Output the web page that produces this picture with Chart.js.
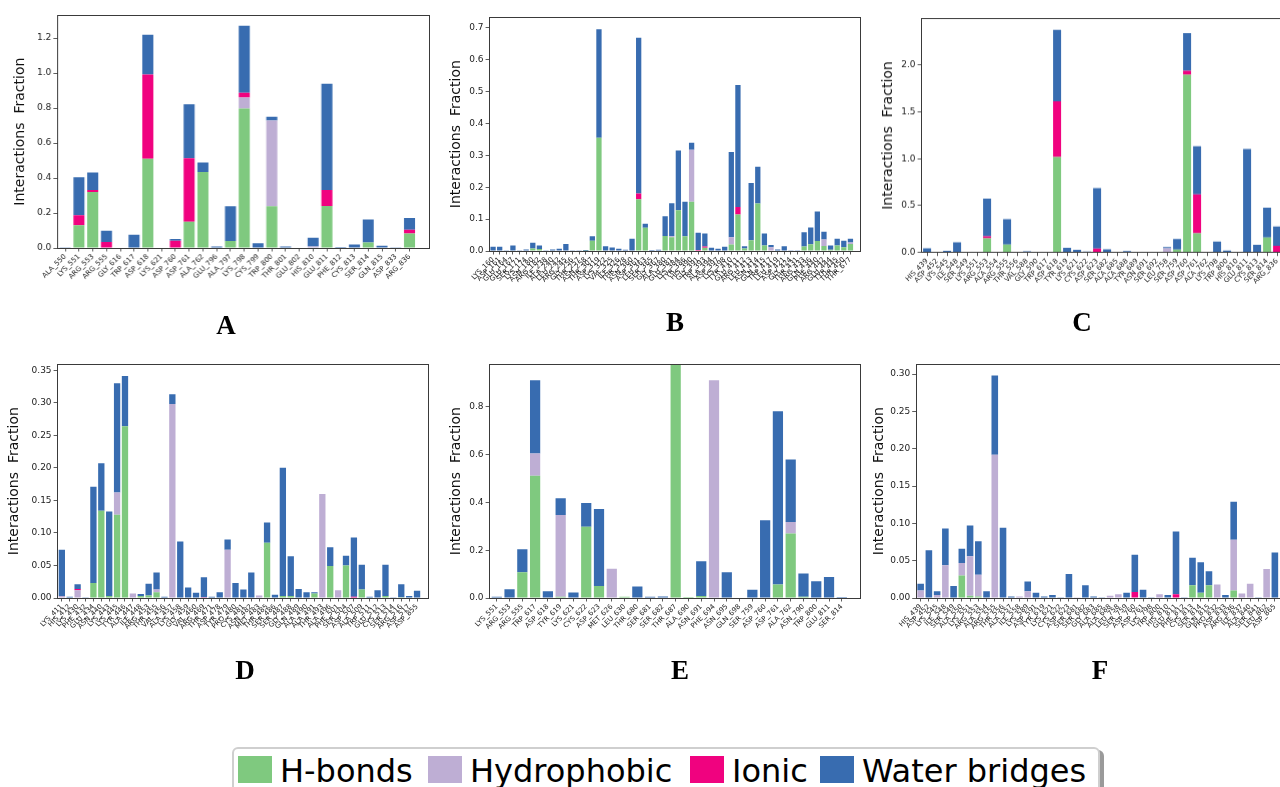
<!DOCTYPE html>
<html><head><meta charset="utf-8">
<script src="https://cdn.jsdelivr.net/npm/chart.js@4.4.1/dist/chart.umd.min.js"></script>
<style>
html,body{margin:0;padding:0;background:#fff;width:1280px;height:787px;overflow:hidden;position:relative;font-family:'DejaVu Sans',sans-serif;}
.panel{position:absolute;}
.letter{position:absolute;font-family:'Liberation Serif','Times New Roman',serif;font-weight:bold;font-size:27px;color:#000;transform:translate(-50%,-50%);line-height:1;}
#legend{position:absolute;left:232px;top:747px;width:864px;height:60px;border:2px solid #cfcfcf;border-radius:6px;background:#fff;box-shadow:4px 3px 0 #9a9a9a;}
.sw{position:absolute;top:756px;width:34px;height:27px;}
.lt{position:absolute;top:755px;font-family:'DejaVu Sans',sans-serif;font-size:32px;line-height:32px;color:#000;white-space:nowrap;}
</style></head>
<body>
<script>
// ---------- series meta ----------
const seriesNames = ['H-bonds','Hydrophobic','Ionic','Water bridges'];
const seriesColors = ['#7fc97f','#beaed4','#f0027f','#386cb0'];

// ---------- Panel A ----------
const catsA = ['ALA_550','LYS_551','ARG_553','ARG_555','GLY_616','TRP_617','ASP_618','LYS_621','ASP_760','ASP_761','ALA_762','GLU_796','ALA_797','LYS_798','CYS_799','TRP_800','THR_801','GLU_802','HIS_810','GLU_811','PHE_812','CYS_813','SER_814','GLN_815','ASP_833','ARG_836'];
const hbondA = [0,0.13,0.32,0,0,0,0.511,0,0,0.15,0.434,0,0.04,0.797,0,0.239,0,0,0,0.24,0,0,0.032,0,0,0.083];
const hydroA = [0,0,0,0,0,0,0,0,0,0,0,0,0,0.063,0,0.49,0,0,0.008,0,0,0,0,0,0,0];
const ionicA = [0,0.057,0.011,0.034,0,0,0.481,0,0.042,0.363,0,0,0,0.028,0,0,0,0,0,0.091,0,0,0,0,0,0.021];
const waterA = [0.005,0.218,0.10,0.064,0,0.076,0.228,0,0.009,0.309,0.055,0.009,0.199,0.383,0.027,0.021,0.008,0,0.051,0.608,0.006,0.02,0.131,0.013,0.005,0.068];
const yTicksA = [0,0.2,0.4,0.6,0.8,1.0,1.2];

// ---------- Panel B ----------
const catsB = ['LYS_160','ASP_161','GLU_164','GLU_167','SER_171','LYS_174','ASN_180','ARG_182','ILE_238','ALA_240','LEU_242','ARG_245','GLY_256','THR_257','ASN_258','THR_307','ASP_319','LYS_322','VAL_325','ILE_326','THR_328','ASN_360','ASP_361','LEU_363','SER_365','GLY_367','ALA_380','GLU_381','LYS_384','TYR_386','HIS_390','GLY_391','TRP_393','ALA_394','ASP_397','LYS_398','TYR_410','GLU_411','ARG_412','LEU_413','ASN_414','GLN_415','TRP_417','LEU_419','ASP_421','GLY_424','THR_431','ARG_433','GLN_436','PHE_440','ARG_442','GLU_444','TYR_445','THR_450','THR_677'];
const hbondB = [0,0,0,0,0,0,0.008,0.006,0,0, 0,0,0,0,0.001,0.032,0.355,0,0,0, 0,0,0.162,0.073,0,0,0.047,0.043,0.128,0.046, 0.154,0,0.01,0,0,0,0.02,0.114,0.008,0.034, 0.149,0.017,0,0,0,0,0,0.014,0.021,0.031, 0.016,0.004,0.017,0.012,0.022];
const hydroB = [0,0,0,0,0,0,0,0,0,0, 0,0,0,0,0,0,0,0,0,0, 0,0,0,0,0,0,0,0.003,0,0, 0.163,0,0,0,0,0,0.023,0,0,0, 0,0,0.012,0,0,0,0,0,0,0, 0.02,0,0,0,0.005];
const ionicB = [0,0,0,0,0,0,0,0,0,0, 0,0,0,0,0,0,0,0,0,0, 0,0,0.018,0,0,0,0,0,0,0, 0,0.003,0.004,0,0,0,0,0.024,0,0, 0,0,0,0,0,0,0,0,0,0, 0,0,0,0,0];
const waterB = [0.013,0.013,0.001,0.017,0.002,0.005,0.018,0.011,0.001,0.005, 0.007,0.022,0.002,0.002,0.002,0.014,0.340,0.015,0.011,0.007, 0.004,0.038,0.488,0.012,0.003,0.004,0.062,0.104,0.187,0.108, 0.022,0.054,0.041,0.01,0.007,0.013,0.267,0.382,0.007,0.179, 0.115,0.038,0.007,0.005,0.015,0.001,0.001,0.045,0.053,0.093, 0.024,0.013,0.021,0.02,0.011];
const yTicksB = [0,0.1,0.2,0.3,0.4,0.5,0.6,0.7];

// ---------- Panel C ----------
const catsC = ['HIS_439','ASP_452','LYS_545','ILE_548','SER_549','LYS_551','ARG_553','ALA_554','ARG_555','THR_556','VAL_588','GLY_590','TRP_617','ASP_618','TYR_619','LYS_621','CYS_622','ASP_623','SER_682','ALA_685','ALA_688','TYR_689','ASN_691','SER_692','LEU_758','SER_759','ASP_760','ASP_761','ALA_762','LYS_798','TRP_800','HIS_810','GLU_811','CYS_813','SER_814','ARG_836'];
const hbondC = [0,0,0,0,0,0,0.152,0,0.085,0, 0,0,0,1.018,0,0,0,0,0,0, 0,0,0,0,0,0.032,1.897,0.206,0,0, 0,0,0,0,0.16,0];
const hydroC = [0,0,0,0,0,0,0,0,0,0, 0,0,0,0,0,0,0,0,0,0, 0,0,0,0,0.046,0,0,0,0,0, 0,0,0,0,0,0];
const ionicC = [0,0,0,0,0,0,0.022,0,0,0, 0,0,0,0.595,0,0,0,0.043,0,0, 0,0,0,0,0,0,0.043,0.415,0,0.005, 0,0,0.005,0,0,0.071];
const waterC = [0.046,0,0.018,0.11,0.002,0.002,0.40,0,0.27,0, 0.012,0.005,0.002,0.763,0.05,0.028,0.01,0.645,0.035,0.006, 0.015,0.002,0.002,0.002,0.011,0.113,0.40,0.514,0,0.112, 0.021,0,1.10,0.082,0.319,0.206];
const yTicksC = [0,0.5,1.0,1.5,2.0];

// ---------- Panel D ----------
const catsD = ['LYS_411','HIS_412','LYS_430','PHE_432','GLU_434','ASN_440','LYS_443','LYS_445','TYR_446','ALA_447','ILE_448','ARG_453','THR_455','VAL_456','ALA_457','LYS_458','GLY_459','VAL_460','ARG_469','THR_471','ASP_478','TYR_479','PRO_480','CYS_481','ASN_482','MET_483','THR_485','SER_486','SER_487','GLY_488','GLN_489','ALA_490','ALA_491','THR_493','ALA_496','PHE_501','SER_504','ASP_507','ALA_509','TRP_511','GLU_512','CYS_513','SER_514','ARG_516','ASP_517','ASP_855'];
const hbondD = [0,0,0,0,0.023,0.134,0.003,0.128,0.264,0, 0.003,0.004,0.009,0,0,0,0,0,0,0, 0,0,0,0,0,0,0.085,0,0.003,0.003, 0,0,0.007,0,0.049,0,0.05,0,0.013,0, 0,0.003,0,0.001,0,0];
const hydroD = [0.003,0,0.012,0,0,0,0,0.034,0,0.007, 0,0,0.004,0,0.298,0,0,0,0,0, 0,0.074,0,0,0,0.004,0,0,0,0, 0,0,0,0.16,0,0.012,0,0,0,0, 0,0,0,0,0,0];
const ionicD = [0,0,0.002,0,0,0,0,0,0,0, 0,0,0,0,0,0,0,0,0.001,0, 0,0,0,0,0,0,0,0,0,0, 0,0,0,0,0,0,0,0.002,0,0, 0,0,0,0,0,0];
const waterD = [0.071,0.002,0.007,0.001,0.148,0.073,0.13,0.168,0.077,0, 0.003,0.018,0.026,0.002,0.015,0.087,0.016,0.008,0.031,0.002, 0.009,0.016,0.023,0.013,0.039,0,0.031,0.005,0.197,0.061, 0.014,0.009,0.002,0,0.029,0,0.015,0.091,0.038,0.002, 0.012,0.048,0.001,0.02,0.003,0.011];
const yTicksD = [0,0.05,0.10,0.15,0.20,0.25,0.30,0.35];

// ---------- Panel E ----------
const catsE = ['LYS_551','ARG_553','ARG_555','TRP_617','ASP_618','TYR_619','LYS_621','CYS_622','ASP_623','MET_626','LEU_630','THR_680','SER_681','SER_682','THR_687','ALA_690','ASN_691','PHE_694','ASN_695','GLN_698','SER_759','ASP_760','ASP_761','ALA_762','ASN_790','TRP_800','GLU_811','SER_814'];
const hbondE = [0,0,0.108,0.512,0,0.005,0,0.298,0.05,0, 0.005,0,0,0,1.0,0.004,0.008,0,0,0, 0,0,0.056,0.27,0.005,0,0,0];
const hydroE = [0,0,0,0.093,0,0.343,0,0,0,0.122, 0,0,0,0,0,0,0,0.912,0,0, 0,0,0,0.048,0,0,0,0];
const ionicE = [0,0,0,0,0,0,0,0,0,0, 0,0,0,0,0,0,0,0,0,0, 0,0,0,0,0,0,0,0];
const waterE = [0.005,0.037,0.096,0.307,0.028,0.07,0.023,0.10,0.323,0, 0,0.048,0.005,0.006,0,0,0.146,0,0.108,0, 0.035,0.325,0.726,0.262,0.098,0.07,0.088,0.004];
const yTicksE = [0,0.2,0.4,0.6,0.8];

// ---------- Panel F ----------
const catsF = ['HIS_439','ASP_452','LYS_545','ILE_548','SER_549','ALA_550','LYS_551','ARG_553','ALA_554','ARG_555','THR_556','ALA_557','ILE_558','LYS_589','ASP_591','TYR_619','LYS_621','CYS_622','ASP_623','SER_681','SER_682','GLY_683','ALA_685','ALA_688','LEU_758','SER_759','ASP_760','ASP_761','LYS_798','TRP_800','HIS_810','GLU_811','PHE_812','CYS_813','SER_814','GLN_815','PRO_832','ASP_833','ARG_836','ILE_837','ALA_840','SER_841','LEU_862','ASP_865'];
const hbondF = [0,0,0,0,0,0.03,0.003,0.002,0,0, 0,0,0,0,0,0,0,0,0,0, 0,0,0,0,0,0,0,0,0,0, 0,0,0,0.017,0.007,0.017,0,0,0.01,0, 0,0,0,0];
const hydroF = [0.01,0,0.004,0.044,0,0.017,0.053,0.029,0,0.192, 0,0,0.002,0.009,0,0,0,0,0,0.001, 0,0,0,0.003,0.005,0,0,0,0,0.005, 0,0,0,0,0,0,0.018,0,0.068,0.006, 0.019,0,0.039,0];
const ionicF = [0,0,0,0,0,0,0,0,0,0, 0,0,0,0,0,0,0,0,0,0, 0,0,0,0,0,0,0.008,0,0,0, 0,0.005,0,0,0,0,0,0,0,0, 0,0,0,0];
const waterF = [0.009,0.064,0.005,0.049,0.016,0.019,0.041,0.045,0.009,0.106, 0.094,0.002,0,0.013,0.007,0.002,0.004,0.001,0.032,0, 0.017,0.002,0.001,0,0,0.007,0.05,0.011,0.001,0, 0.004,0.084,0.001,0.037,0.041,0.019,0,0.004,0.051,0, 0,0.001,0,0.061];
const yTicksF = [0,0.05,0.10,0.15,0.20,0.25,0.30];

const yTitle = 'Interactions  Fraction';

// ---------- layout (positions only) ----------
const panels = [
  {letter:'A', cats:catsA, s:[hbondA,hydroA,ionicA,waterA], yTicks:yTicksA, yMax:1.33,  dec:1, box:[56.7,14,427.7,248],    titleOff:36.4, lpos:[226,325]},
  {letter:'B', cats:catsB, s:[hbondB,hydroB,ionicB,waterB], yTicks:yTicksB, yMax:0.732, dec:1, box:[488.7,15.7,859.3,250.7], titleOff:32.7, lpos:[675,322]},
  {letter:'C', cats:catsC, s:[hbondC,hydroC,ionicC,waterC], yTicks:yTicksC, yMax:2.497, dec:1, box:[921,17.3,1291,252],     titleOff:32.7, lpos:[1082,322]},
  {letter:'D', cats:catsD, s:[hbondD,hydroD,ionicD,waterD], yTicks:yTicksD, yMax:0.359, dec:2, box:[56.7,362.7,427.7,597.7],titleOff:42.7, lpos:[245,670]},
  {letter:'E', cats:catsE, s:[hbondE,hydroE,ionicE,waterE], yTicks:yTicksE, yMax:0.978, dec:1, box:[488.7,362.7,859.3,597.7],titleOff:32.7, lpos:[680,670]},
  {letter:'F', cats:catsF, s:[hbondF,hydroF,ionicF,waterF], yTicks:yTicksF, yMax:0.313, dec:2, box:[915.3,362.7,1286,597.7], titleOff:36.3, lpos:[1100,670]}
];

Chart.defaults.font.family = "'DejaVu Sans', sans-serif";

const framePlugin = {
  id:'frame',
  afterDatasetsDraw(c){
    const a=c.chartArea, ctx=c.ctx;
    ctx.save();
    ctx.strokeStyle='#3a3a3a'; ctx.lineWidth=1;
    ctx.strokeRect(Math.round(a.left)+0.5, Math.round(a.top)+0.5, Math.round(a.right-a.left), Math.round(a.bottom-a.top));
    ctx.restore();
  }
};

function makeChart(p){
  const [L,T,R,B] = p.box;
  const YW = p.titleOff + 8.4, PT = 6, PR = 6, XH = 64;
  const div = document.createElement('div');
  div.className = 'panel';
  div.style.left = (L - YW) + 'px';
  div.style.top = (T - PT) + 'px';
  div.style.width = (R - L + YW + PR) + 'px';
  div.style.height = (B - T + PT + XH) + 'px';
  const cv = document.createElement('canvas');
  div.appendChild(cv);
  document.body.appendChild(div);
  const n = p.cats.length;
  const idx = p.cats.map((_, i) => i);
  const tickGrid = {display:true, drawOnChartArea:false, drawTicks:true, tickLength:3.5, color:'#333', lineWidth:0.8, offset:false};
  new Chart(cv, {
    type:'bar',
    data:{
      labels: idx,
      datasets: seriesNames.map((name, k) => ({
        label:name, data:p.s[k], backgroundColor:seriesColors[k],
        borderWidth:0, barPercentage:0.8, categoryPercentage:1
      }))
    },
    options:{
      responsive:true, maintainAspectRatio:false, animation:false, devicePixelRatio:1,
      layout:{padding:{left:0, top:PT, right:PR, bottom:0}},
      plugins:{legend:{display:false}, tooltip:{enabled:false}},
      scales:{
        x:{
          type:'linear', stacked:true, min:-0.6, max:n - 1 + 1.4, offset:false,
          grid:tickGrid, border:{display:false},
          afterBuildTicks:(s) => { s.ticks = idx.map(v => ({value:v})); },
          afterFit:(s) => { s.height = XH; },
          ticks:{autoSkip:false, maxRotation:45, minRotation:45, padding:1,
                 font:{size:7}, color:'#222',
                 callback:(v) => (p.cats[v] !== undefined ? p.cats[v] : '')}
        },
        y:{
          type:'linear', stacked:true, min:0, max:p.yMax,
          grid:tickGrid, border:{display:false},
          afterBuildTicks:(s) => { s.ticks = p.yTicks.map(v => ({value:v})); },
          afterFit:(s) => { s.width = YW; },
          ticks:{padding:2, font:{size:9}, color:'#222',
                 callback:(v) => Number(v).toFixed(p.dec)},
          title:{display:true, text:yTitle, font:{size:14}, color:'#111', padding:{top:0, bottom:0}}
        }
      }
    },
    plugins:[framePlugin]
  });
  const lt = document.createElement('div');
  lt.className = 'letter';
  lt.textContent = p.letter;
  lt.style.left = p.lpos[0] + 'px';
  lt.style.top = p.lpos[1] + 'px';
  document.body.appendChild(lt);
}

panels.forEach(makeChart);

// ---------- shared legend ----------
const lg = document.createElement('div'); lg.id = 'legend'; document.body.appendChild(lg);
const swX = [238, 428, 690, 820];
const txX = [280, 470, 732, 862];
seriesNames.forEach((name, k) => {
  const sw = document.createElement('div'); sw.className = 'sw';
  sw.style.left = swX[k] + 'px'; sw.style.background = seriesColors[k];
  document.body.appendChild(sw);
  const t = document.createElement('div'); t.className = 'lt';
  t.style.left = txX[k] + 'px'; t.textContent = name;
  document.body.appendChild(t);
});
</script>
</body></html>
